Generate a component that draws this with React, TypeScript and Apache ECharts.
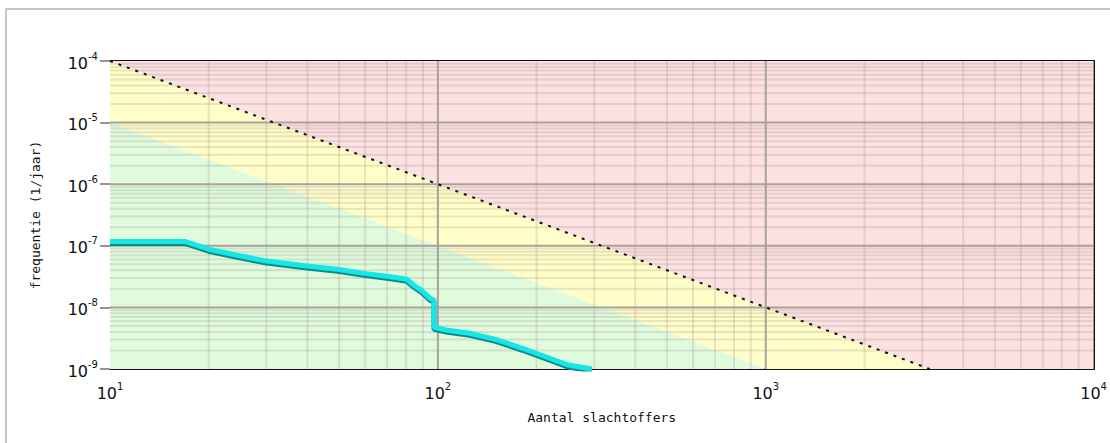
import React, { useEffect, useRef } from "react";
import * as echarts from "echarts";

// Axis ranges (log scales)
const xMin = 10;
const xMax = 10000;
const yMin = 1e-9;
const yMax = 1e-4;

// Major decades for grid
const xDecades = [10, 100, 1000, 10000];
const yDecades = [1e-9, 1e-8, 1e-7, 1e-6, 1e-5, 1e-4];
const minorMultipliers = [2, 3, 4, 5, 6, 7, 8, 9];

// Upper criterion line (dashed): red above, yellow below
const upperLineN = [10, 3162.28];
const upperLineF = [1e-4, 1e-9];
// Lower criterion line: green below
const lowerLineN = [10, 1000];
const lowerLineF = [1e-5, 1e-9];

// FN-curve (cyan)
const fnN = [10, 17, 20, 23.6, 29.7, 39.3, 49.4, 59.5, 71.7, 80.5, 84.3, 89.3, 94.7, 97.3, 97.3, 106, 125, 150, 181, 213, 250, 295];
const fnF = [1.17e-7, 1.17e-7, 8.8e-8, 7.3e-8, 5.7e-8, 4.75e-8, 4.15e-8, 3.57e-8, 3.15e-8, 2.86e-8, 2.31e-8, 1.87e-8, 1.4e-8, 1.32e-8, 4.75e-9, 4.3e-9, 3.8e-9, 3.03e-9, 2.17e-9, 1.58e-9, 1.16e-9, 1e-9];

const regionColors = ["#fde0e0", "#fffdc8", "#e0fbdc"];

const FONT = "DejaVu Sans, Liberation Sans, Arial, sans-serif";
const MONO = "DejaVu Sans Mono, monospace";

export default function App() {
  const ref = useRef<HTMLDivElement>(null);

  useEffect(() => {
    document.body.style.margin = "0";
    if (!ref.current) return;
    const chart = echarts.init(ref.current, null, { renderer: "svg" });

    const regions: number[][][] = [
      [
        [upperLineN[0], upperLineF[0]],
        [xMax, yMax],
        [xMax, yMin],
        [upperLineN[1], upperLineF[1]],
      ],
      [
        [upperLineN[0], upperLineF[0]],
        [upperLineN[1], upperLineF[1]],
        [lowerLineN[1], lowerLineF[1]],
        [lowerLineN[0], lowerLineF[0]],
      ],
      [
        [lowerLineN[0], lowerLineF[0]],
        [lowerLineN[1], lowerLineF[1]],
        [xMin, yMin],
      ],
    ];

    const gridLines: { axis: number; v: number; major: boolean }[] = [];
    xDecades.slice(0, -1).forEach((d) =>
      minorMultipliers.forEach((m) => gridLines.push({ axis: 0, v: d * m, major: false }))
    );
    yDecades.slice(0, -1).forEach((d) =>
      minorMultipliers.forEach((m) => gridLines.push({ axis: 1, v: d * m, major: false }))
    );
    xDecades.slice(1, -1).forEach((d) => gridLines.push({ axis: 0, v: d, major: true }));
    yDecades.slice(1, -1).forEach((d) => gridLines.push({ axis: 1, v: d, major: true }));

    const expLabel = (v: number) => `{b|10}{s|${Math.round(Math.log10(v))}}`;
    const rich = {
      b: { fontSize: 16, fontFamily: FONT, color: "#111", lineHeight: 20, verticalAlign: "bottom" },
      s: { fontSize: 10, fontFamily: FONT, color: "#111", lineHeight: 20, verticalAlign: "top" },
    };

    chart.setOption({
      animation: false,
      graphic: [
        {
          type: "rect",
          shape: { x: 6, y: 9, width: 1300, height: 600 },
          style: { fill: "none", stroke: "#c6c6be", lineWidth: 2 },
          silent: true,
          z: 0,
        },
      ],
      grid: { left: 110, right: 6, top: 61, bottom: 74 },
      xAxis: [
        {
          type: "log",
          logBase: 10,
          min: xMin,
          max: xMax,
          name: "Aantal slachtoffers",
          nameLocation: "middle",
          nameGap: 42,
          nameTextStyle: { fontSize: 13, fontFamily: MONO, color: "#111" },
          axisLine: { show: true, lineStyle: { color: "#111", width: 2 } },
          axisTick: { show: false },
          axisLabel: { formatter: expLabel, rich, margin: 12 },
          splitLine: { show: false },
        },
        {
          type: "log",
          logBase: 10,
          min: xMin,
          max: xMax,
          position: "top",
          axisLine: { show: true, lineStyle: { color: "#111", width: 2 } },
          axisTick: { show: false },
          axisLabel: { show: false },
          splitLine: { show: false },
        },
      ],
      yAxis: [
        {
          type: "log",
          logBase: 10,
          min: yMin,
          max: yMax,
          name: "frequentie (1/jaar)",
          nameLocation: "middle",
          nameGap: 68,
          nameRotate: 90,
          nameTextStyle: { fontSize: 13, fontFamily: MONO, color: "#111" },
          axisLine: { show: false },
          axisTick: { show: true, length: 10, lineStyle: { color: "#9a9490", width: 2 } },
          axisLabel: { formatter: expLabel, rich, margin: 12 },
          splitLine: { show: false },
        },
        {
          type: "log",
          logBase: 10,
          min: yMin,
          max: yMax,
          position: "right",
          axisLine: { show: true, lineStyle: { color: "#111", width: 2 } },
          axisTick: { show: false },
          axisLabel: { show: false },
          splitLine: { show: false },
        },
      ],
      series: [
        {
          type: "custom",
          name: "regions",
          coordinateSystem: "cartesian2d",
          silent: true,
          z: 1,
          data: regions.map((r) => r[0]),
          renderItem: (params: any, api: any) => {
            const poly = regions[params.dataIndex];
            return {
              type: "polygon",
              shape: { points: poly.map((p) => api.coord(p)) },
              style: { fill: regionColors[params.dataIndex], stroke: "none" },
              silent: true,
            };
          },
        },
        {
          type: "custom",
          name: "grid",
          coordinateSystem: "cartesian2d",
          silent: true,
          z: 2,
          clip: false,
          data: gridLines.map((g) => (g.axis === 0 ? [g.v, yMin] : [xMin, g.v])),
          renderItem: (params: any, api: any) => {
            const g = gridLines[params.dataIndex];
            const a = g.axis === 0 ? api.coord([g.v, yMin]) : api.coord([xMin, g.v]);
            const b = g.axis === 0 ? api.coord([g.v, yMax]) : api.coord([xMax, g.v]);
            return {
              type: "line",
              shape: { x1: a[0], y1: a[1], x2: b[0], y2: b[1] },
              style: g.major
                ? { stroke: "#a8a19d", lineWidth: 2 }
                : { stroke: "rgba(140,125,125,0.2)", lineWidth: 2 },
              silent: true,
              z2: g.major ? 2 : 1,
            };
          },
        },
        {
          type: "line",
          name: "criterion",
          z: 4,
          silent: true,
          symbol: "none",
          data: upperLineN.map((n, i) => [n, upperLineF[i]]),
          lineStyle: { color: "#111", width: 2, type: [3, 6] },
        },
        {
          type: "line",
          name: "FN",
          z: 5,
          silent: true,
          symbol: "none",
          data: fnN.map((n, i) => [n, fnF[i]]),
          lineStyle: {
            color: "#12e6e6",
            width: 5,
            shadowColor: "#0a8a86",
            shadowBlur: 0,
            shadowOffsetY: 2,
          },
        },
      ],
    });

    return () => chart.dispose();
  }, []);

  return <div ref={ref} style={{ width: 1110, height: 443 }} />;
}
